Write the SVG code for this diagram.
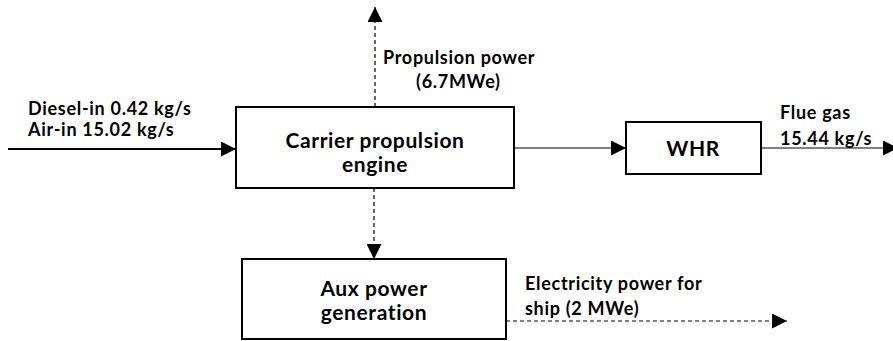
<svg xmlns="http://www.w3.org/2000/svg" width="893" height="341" viewBox="0 0 893 341">
<defs>
<style>
.box{fill:#fff;stroke:#000;stroke-width:2}
.t{font-family:Lato,"Liberation Sans",sans-serif;font-weight:bold;fill:#000}
.s{font-size:18px;letter-spacing:0.7px}
.b{font-size:21px;letter-spacing:0.6px}
.ln{fill:none;stroke:#000;stroke-width:1.2}
.thick{stroke-width:2.2}
.dash{stroke-dasharray:4,3}
</style>
<marker id="ah" viewBox="0 0 10 10" refX="10" refY="5" markerWidth="15" markerHeight="15" markerUnits="userSpaceOnUse" orient="auto">
<path d="M0,0 L10,5 L0,10 z" fill="#000"/>
</marker>
</defs>
<rect width="893" height="341" fill="#fff"/>
<g id="connectors">
<line class="ln thick" x1="8" y1="149" x2="236" y2="149" marker-end="url(#ah)"/>
<line class="ln dash" x1="375" y1="107" x2="375" y2="7" marker-end="url(#ah)"/>
<line class="ln dash" x1="374" y1="188" x2="374" y2="259" marker-end="url(#ah)"/>
<line class="ln" x1="514" y1="148" x2="626" y2="148" marker-end="url(#ah)"/>
<line class="ln" x1="761" y1="148" x2="898" y2="148" marker-end="url(#ah)"/>
<line class="ln dash" x1="506" y1="321" x2="787" y2="321" marker-end="url(#ah)"/>
</g>
<g id="engine">
<rect class="box" x="236" y="107" width="278" height="81"/>
<text class="t b" x="375" y="148" text-anchor="middle">Carrier propulsion</text>
<text class="t b" x="375" y="172" text-anchor="middle">engine</text>
</g>
<g id="whr">
<rect class="box" x="626" y="122" width="135" height="52"/>
<text class="t b" x="693" y="156" text-anchor="middle">WHR</text>
</g>
<g id="aux">
<rect class="box" x="242" y="259" width="264" height="80"/>
<text class="t b" x="374" y="296" text-anchor="middle">Aux power</text>
<text class="t b" x="374" y="320" text-anchor="middle">generation</text>
</g>
<g id="labels">
<text class="t s" x="28" y="115">Diesel-in 0.42 kg/s</text>
<text class="t s" x="28" y="136">Air-in 15.02 kg/s</text>
<text class="t s" x="383" y="64">Propulsion power</text>
<text class="t s" x="416" y="88">(6.7MWe)</text>
<text class="t s" x="780" y="119">Flue gas</text>
<text class="t s" x="780" y="145">15.44 kg/s</text>
<text class="t s" x="525" y="290">Electricity power for</text>
<text class="t s" x="525" y="315">ship (2 MWe)</text>
</g>
</svg>
